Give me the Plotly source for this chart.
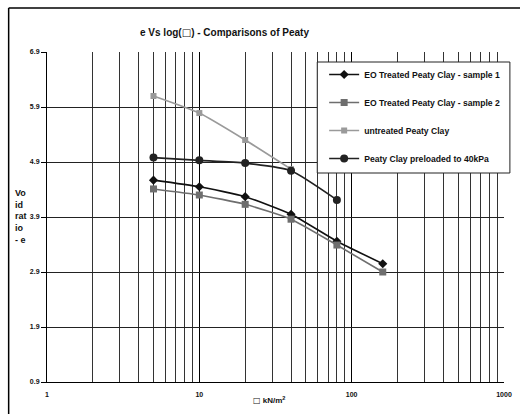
import plotly.graph_objects as go

# Applied stress (kN/m^2) for each load stage
stress = [5, 10, 20, 40, 80, 160]

# Void ratio e at each stage
e_sample1 = [4.57, 4.45, 4.27, 3.95, 3.46, 3.05]
e_sample2 = [4.41, 4.30, 4.13, 3.86, 3.39, 2.90]
e_untreated = [6.10, 5.79, 5.30, 4.77]
e_preloaded = [4.98, 4.93, 4.88, 4.74, 4.21]

series_names = [
    "EO Treated Peaty Clay - sample 1",
    "EO Treated Peaty Clay - sample 2",
    "untreated Peaty Clay",
    "Peaty Clay preloaded to 40kPa",
]

y_ticks = [0.9, 1.9, 2.9, 3.9, 4.9, 5.9, 6.9]
x_ticks = [1, 10, 100, 1000]

FONT = "Liberation Sans, Arial, sans-serif"
BOX = '<span style="font-family:DejaVu Sans">□</span>'

fig = go.Figure()

styles = [
    (e_sample1, "#111111", "#111111", "diamond", 7, 1.6),
    (e_sample2, "#6e6e6e", "#6e6e6e", "square", 7, 1.6),
    (e_untreated, "#9a9a9a", "#9a9a9a", "square", 6, 1.6),
    (e_preloaded, "#222222", "#222222", "circle", 8, 1.6),
]

for i, (vals, lc, mc, sym, ms, lw) in enumerate(styles):
    fig.add_trace(go.Scatter(
        x=stress[:len(vals)], y=vals, name=f"<b>{series_names[i]}</b>",
        mode="lines+markers",
        line=dict(color=lc, width=lw, shape="spline", smoothing=0.5),
        marker=dict(color=mc, symbol=sym, size=ms, line=dict(width=0)),
        legendgroup=f"g{i}",
    ))

# Outer chart frame (left and top edges fall inside the page)
fig.add_shape(type="line", xref="paper", yref="paper",
              x0=-0.0839, x1=-0.0839, y0=-0.3, y1=1.1333,
              line=dict(color="black", width=1.5), layer="below")
fig.add_shape(type="line", xref="paper", yref="paper",
              x0=-0.0839, x1=1.1, y0=1.1333, y1=1.1333,
              line=dict(color="black", width=1.5), layer="below")
# Opaque legend box
fig.add_shape(type="rect", xref="paper", yref="paper",
              x0=(322 - 47) / 465, x1=(518 - 47) / 465,
              y0=(382 - 173) / 330, y1=(382 - 62) / 330,
              line=dict(color="#222222", width=1), fillcolor="white",
              layer="above")

fig.add_annotation(text=f"<b>e Vs log({BOX}) - Comparisons of Peaty</b>",
                   xref="paper", yref="paper", x=(228 - 47) / 465,
                   y=(382 - 25) / 330, showarrow=False,
                   font=dict(family=FONT, size=10, color="#111111"))
fig.add_annotation(text="<b>Vo<br>id<br>rat<br>io<br>- e</b>",
                   xref="paper", yref="paper", x=(12 - 47) / 465,
                   y=(382 - 216) / 330, showarrow=False, xanchor="left",
                   align="left",
                   font=dict(family=FONT, size=9, color="#111111"))
fig.add_annotation(text=f"<b>{BOX} kN/m<sup>2</sup></b>",
                   xref="paper", yref="paper", x=(273 - 47) / 465,
                   y=(382 - 407) / 330, showarrow=False,
                   font=dict(family=FONT, size=8, color="#111111"))

fig.update_layout(
    width=520, height=414,
    margin=dict(l=47, r=8, t=52, b=32),
    paper_bgcolor="white", plot_bgcolor="white",
    showlegend=True,
    legend=dict(x=(329 - 47) / 465, y=(382 - 60) / 330,
                xanchor="left", yanchor="top",
                bgcolor="rgba(0,0,0,0)", borderwidth=0,
                tracegroupgap=9,
                font=dict(family=FONT, size=8.6, color="#111111")),
    font=dict(family=FONT, color="#111111"),
)

fig.update_xaxes(type="log", range=[0, 3], tickvals=x_ticks,
                 ticktext=[f"<b>{v}</b>" for v in x_ticks],
                 tickfont=dict(size=7), showline=True, linecolor="black",
                 linewidth=1, showgrid=True, gridcolor="black", gridwidth=1,
                 minor=dict(dtick="D1", showgrid=True, gridcolor="#333333",
                            gridwidth=1),
                 mirror=False, zeroline=False, ticks="outside", ticklen=6,
                 tickcolor="rgba(0,0,0,0)")
fig.update_yaxes(range=[0.9, 6.9], tickvals=y_ticks,
                 ticktext=[f"<b>{v}</b>" for v in y_ticks],
                 tickfont=dict(size=7), showline=True, linecolor="black",
                 linewidth=1, showgrid=True, gridcolor="#222222",
                 gridwidth=1, ticks="outside", ticklen=5, tickcolor="black",
                 zeroline=False)

fig.write_html("out.html")
